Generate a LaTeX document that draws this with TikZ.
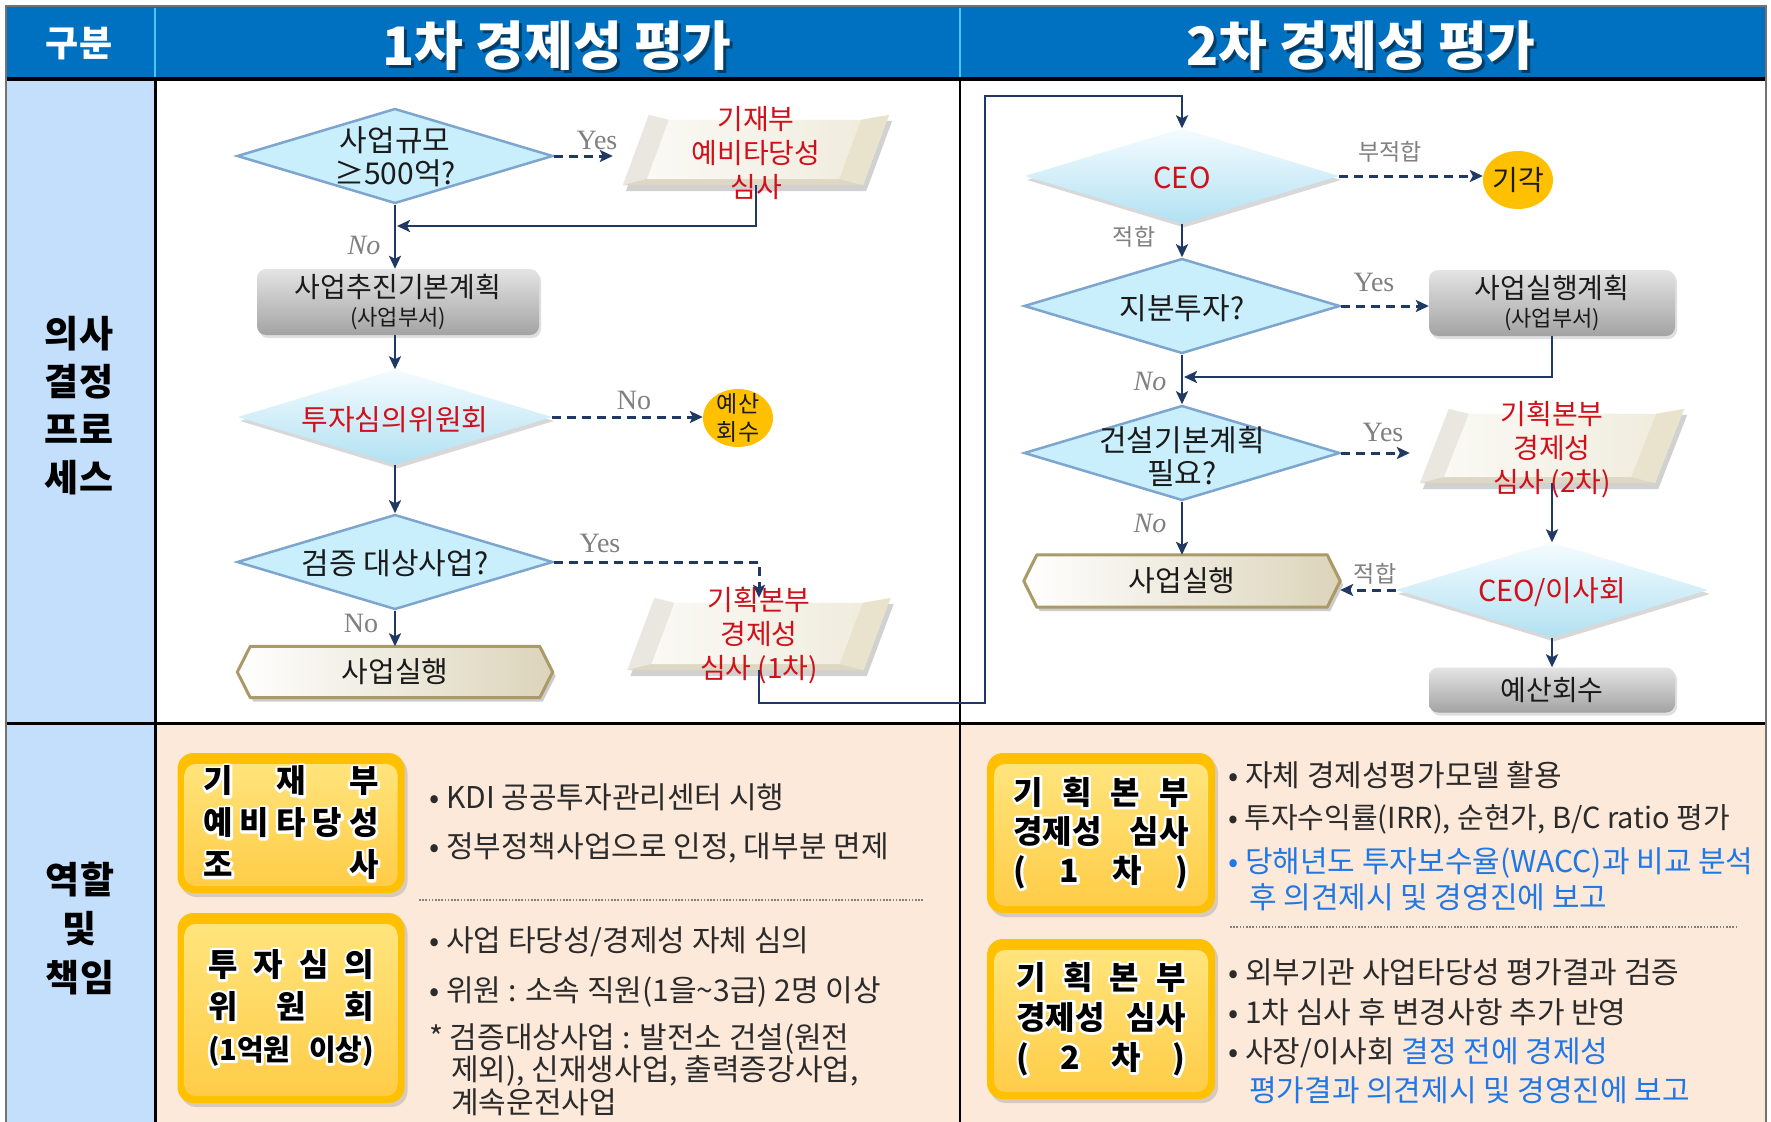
\documentclass[tikz,border=0pt]{standalone}
\usepackage{fontspec}
\setmainfont{Noto Sans CJK KR}
\newfontfamily\lserif{Liberation Serif}
\usetikzlibrary{shapes.geometric,arrows.meta,calc,shadows}
\pgfdeclarelayer{bg}
\pgfdeclarelayer{shp}
\pgfsetlayers{bg,shp,main}
\definecolor{hdrblue}{HTML}{0070C0}
\definecolor{hdrline}{HTML}{4FC3F7}
\definecolor{lcolblue}{HTML}{C4DFFB}
\definecolor{peach}{HTML}{FDE9DA}
\definecolor{navy}{HTML}{1F3864}
\definecolor{diafill}{HTML}{C9EEFC}
\definecolor{diaedge}{HTML}{7DA5CE}
\definecolor{glossT}{HTML}{F4FCFF}
\definecolor{glossB}{HTML}{B2E1F2}
\definecolor{redtxt}{HTML}{D0101A}
\definecolor{bluetxt}{HTML}{1F78E6}
\definecolor{graylbl}{HTML}{808080}
\definecolor{txt}{HTML}{1A1A1A}
\definecolor{bodytxt}{HTML}{2B2B2B}
\definecolor{orng}{HTML}{FFC000}
\definecolor{oyT}{HTML}{FFE680}
\definecolor{oyB}{HTML}{FFCB45}
\definecolor{grayT}{HTML}{E4E4E4}
\definecolor{grayB}{HTML}{A3A3A3}
\definecolor{hexedge}{HTML}{A99A68}
\definecolor{hexR}{HTML}{DCD4BA}
\definecolor{facT}{HTML}{FFFFFF}
\definecolor{facL}{HTML}{E9E7E0}
\definecolor{facB}{HTML}{DDD7C3}
\definecolor{facR}{HTML}{E9E3CE}
\definecolor{paraL}{HTML}{FAF9F4}
\definecolor{paraR}{HTML}{F0ECDE}
\newcommand\myfs[2]{\fontsize{#1}{#2}\selectfont}
\newcommand\halotext[1]{\special{pdf:literal direct 2 Tr 5 w 1 j}#1\special{pdf:literal direct 0 Tr 1 w 0 j}}
\newcommand\parashape[2]{%
 \path ([xshift=#2pt]#1.north west) coordinate (#1tl)
       (#1.north east) coordinate (#1tr)
       ([xshift=-#2pt]#1.south east) coordinate (#1br)
       (#1.south west) coordinate (#1bl);
 \path ([shift={(20,5)}]#1tl) coordinate (#1itl)
       ([shift={(-28,5)}]#1tr) coordinate (#1itr)
       ([shift={(-24,-6)}]#1br) coordinate (#1ibr)
       ([shift={(24,-6)}]#1bl) coordinate (#1ibl);
 \fill[black,opacity=.18] ([shift={(3,6)}]#1tl) -- ([shift={(3,6)}]#1tr) -- ([shift={(3,6)}]#1br) -- ([shift={(3,6)}]#1bl) -- cycle;
 \fill[facT] (#1tl) -- (#1tr) -- (#1itr) -- (#1itl) -- cycle;
 \fill[facL] (#1tl) -- (#1itl) -- (#1ibl) -- (#1bl) -- cycle;
 \fill[facB] (#1bl) -- (#1ibl) -- (#1ibr) -- (#1br) -- cycle;
 \fill[facR] (#1tr) -- (#1br) -- (#1ibr) -- (#1itr) -- cycle;
 \shade[left color=paraL, right color=paraR] (#1itl) -- (#1itr) -- (#1ibr) -- (#1ibl) -- cycle;
}
\newcommand\hexshape[1]{%
 \begin{scope}[transform canvas={shift={(3pt,-4pt)}}]
 \fill[black,opacity=.2] ([xshift=13pt]#1.north west) -- ([xshift=-13pt]#1.north east) -- (#1.east) -- ([xshift=-13pt]#1.south east) -- ([xshift=13pt]#1.south west) -- (#1.west) -- cycle;
 \end{scope}
 \filldraw[left color=white, right color=hexR, draw=hexedge, line width=3pt, line join=round] ([xshift=13pt]#1.north west) -- ([xshift=-13pt]#1.north east) -- (#1.east) -- ([xshift=-13pt]#1.south east) -- ([xshift=13pt]#1.south west) -- (#1.west) -- cycle;
}
\newcommand\obAtxt{\hbox to 175pt{기\hfil 재\hfil 부}\\\hbox to 175pt{예\hfil 비\hfil 타\hfil 당\hfil 성}\\\hbox to 175pt{조\hfil 사}}
\newcommand\obBtxt{\hbox to 166pt{투\hfil 자\hfil 심\hfil 의}\\\hbox to 166pt{위\hfil 원\hfil 회}\\\hbox to 166pt{\myfs{29}{42}(1억원\hfil 이상)}}
\newcommand\obCtxt{\hbox to 175pt{기\hfil 획\hfil 본\hfil 부}\\\hbox to 175pt{경제성\hfil 심사}\\\hbox to 175pt{(\hfil 1\hfil 차\hfil )}}
\newcommand\obDtxt{\hbox to 169pt{기\hfil 획\hfil 본\hfil 부}\\\hbox to 169pt{경제성\hfil 심사}\\\hbox to 169pt{(\hfil 2\hfil 차\hfil )}}
\begin{document}
\begin{tikzpicture}[x=1pt,y=-1pt,
 every node/.style={inner sep=0pt},
 flow/.style={draw=navy, line width=2.5pt},
 arr/.style={flow, -{Stealth[length=13pt,width=12pt,inset=3pt]}},
 darr/.style={arr, line width=3pt, dash pattern=on 9pt off 6pt},
 flatdia/.style={diamond, draw=diaedge, line width=2.5pt, fill=diafill, minimum width=316pt, minimum height=95pt},
 glossdia/.style={diamond, top color=glossT, bottom color=glossB, minimum width=314pt, minimum height=95pt, drop shadow={opacity=.3, shadow xshift=2pt, shadow yshift=-4pt}},
 dlabel/.style={text=txt, font=\myfs{30}{33}, align=center},
 rlabel/.style={text=redtxt, font=\myfs{28}{34}, align=center},
 graybox/.style={rectangle, rounded corners=9pt, top color=grayT, bottom color=grayB, font=\myfs{28}{30}, text=txt, align=center, drop shadow={opacity=.25, shadow xshift=2pt, shadow yshift=-3pt}},
 hexbox/.style={rectangle, minimum width=315pt, minimum height=51pt, font=\myfs{29}{30}, text=txt},
 parabox/.style={rectangle, minimum width=266pt, minimum height=70pt},
 orngcirc/.style={ellipse, fill=orng, minimum width=70pt, minimum height=58pt},
 yn/.style={text=graylbl, font=\lserif\myfs{28}{30}},
 ynit/.style={text=graylbl, font=\lserif\itshape\myfs{28}{30}},
 klbl/.style={text=graylbl, font=\myfs{23}{26}},
 bullet/.style={anchor=west, text=bodytxt, font=\myfs{30}{32}},
 obox/.style={rounded corners=16pt, fill=orng, minimum width=227pt, align=center, text=white,
   font=\bfseries\myfs{32}{42},
   drop shadow={opacity=.3, shadow xshift=3pt, shadow yshift=-4pt},
   path picture={\shade[top color=oyT, bottom color=oyB, rounded corners=11pt]
     ([shift={(7,11)}]path picture bounding box.north west) rectangle
     ([shift={(-7,-7)}]path picture bounding box.south east);}},
 obtext/.style={align=center, text=black, font=\bfseries\myfs{32}{42}},
 hdr/.style={text=white, font=\bfseries\myfs{53}{56}},
 hdrs/.style={text=black, opacity=.45, font=\bfseries\myfs{53}{56}}
]
\useasboundingbox (0,0) rectangle (1771,1121);

% ---------- table background ----------
\begin{pgfonlayer}{bg}
\fill[white] (0,0) rectangle (1771,1121);
\fill[hdrblue] (6,6) rectangle (1766,79);
\fill[lcolblue] (6,79) rectangle (155,1130);
\fill[peach] (155,723) rectangle (1766,1130);
\draw[hdrline, line width=1.5pt] (155,8) -- (155,78);
\draw[hdrline, line width=1.5pt] (960,8) -- (960,78);
\draw[black, line width=4pt] (6,79) -- (1766,79);
\draw[black, line width=3pt] (6,723) -- (1766,723);
\draw[black, line width=3pt] (155,79) -- (155,1130);
\draw[black, line width=2.5pt] (960,79) -- (960,1130);
\draw[black!55, line width=2pt] (6,6) rectangle (1766,1130);
\draw[gray, line width=1.6pt, dash pattern=on 1.6pt off 1.6pt] (419,900) -- (923,900);
\draw[gray, line width=1.6pt, dash pattern=on 1.6pt off 1.6pt] (1230,927) -- (1737,927);
\end{pgfonlayer}

% ---------- headers ----------
\node[text=white, font=\bfseries\myfs{36}{40}] (hd0) at (79,44) {구분};
\node[hdrs] (hd1s) at (560,49) {1차 경제성 평가};
\node[hdr] (hd1) at (557,46) {1차 경제성 평가};
\node[hdrs] (hd2s) at (1364,49) {2차 경제성 평가};
\node[hdr] (hd2) at (1361,46) {2차 경제성 평가};
\node[font=\bfseries\myfs{37}{48}, align=center, text=black] (lc1) at (79,406) {의사\\결정\\프로\\세스};
\node[font=\bfseries\myfs{37}{49}, align=center, text=black] (lc2) at (80,929) {역할\\및\\책임};

% ---------- left flow ----------
\node[flatdia] (d1) at (395,156) {};
\node[dlabel] (d1t) at (395,157) {사업규모\\≥500억?};
\node[parabox] (p1) at (756,150) {};
\node[graybox, minimum width=282pt, minimum height=66pt] (b1) at (398,302) {사업추진기본계획\\[-2pt]{\myfs{22}{26}(사업부서)}};
\node[glossdia] (d2) at (395,417) {};
\node[rlabel, font=\myfs{29}{32}] (d2t) at (395,420) {투자심의위원회};
\node[orngcirc] (c1) at (738,418) {};
\node[text=txt, font=\myfs{23}{28}, align=center] (c1t) at (738,418) {예산\\회수};
\node[flatdia] (d3) at (395,562) {};
\node[dlabel] (d3t) at (395,563) {검증 대상사업?};
\node[parabox, minimum width=263pt, minimum height=72pt] (p2) at (759,634) {};
\node[hexbox] (hx1) at (395,672) {사업실행};

% ---------- right flow ----------
\node[glossdia] (ceo) at (1182,176) {};
\node[rlabel, font=\myfs{29}{32}] (ceot) at (1182,178) {CEO};
\node[orngcirc] (kg) at (1518,180) {};
\node[text=txt, font=\myfs{28}{30}] (kgt) at (1518,180) {기각};
\node[flatdia] (d5) at (1182,306) {};
\node[dlabel] (d5t) at (1182,308) {지분투자?};
\node[graybox, minimum width=246pt, minimum height=66pt] (b2) at (1552,303) {사업실행계획\\[-2pt]{\myfs{22}{26}(사업부서)}};
\node[flatdia] (d6) at (1182,453) {};
\node[dlabel] (d6t) at (1182,457) {건설기본계획\\필요?};
\node[parabox, minimum width=264pt, minimum height=74pt] (p3) at (1552,446) {};
\node[hexbox, minimum width=316pt, minimum height=52pt] (hx2) at (1182,581) {사업실행};
\node[glossdia, minimum width=312pt] (d7) at (1552,590) {};
\node[rlabel, font=\myfs{29}{32}] (d7t) at (1552,592) {CEO/이사회};
\node[graybox, minimum width=246pt, minimum height=45pt] (b3) at (1552,690) {예산회수};

% ---------- shapes drawn behind ----------
\begin{pgfonlayer}{shp}
\parashape{p1}{26}
\parashape{p2}{27}
\parashape{p3}{29}
\hexshape{hx1}
\hexshape{hx2}
\end{pgfonlayer}

% ---------- parallelogram texts ----------
\node[rlabel] (p1t) at (756,153) {기재부\\예비타당성\\심사};
\node[rlabel] (p2t) at (759,636) {기획본부\\경제성\\심사 (1차)};
\node[rlabel] (p3t) at (1552,450) {기획본부\\경제성\\심사 (2차)};

% ---------- coordinates ----------
\coordinate (m1) at (397,226);
\coordinate (j1) at (985,703);
\coordinate (j2) at (985,96);
\coordinate (m2) at (1184,377);

% ---------- connectors ----------
\draw[darr, shorten >=10pt] (d1.east) -- (d1.east -| p1.west);
\draw[arr] (p1.south) |- (m1);
\draw[arr] (d1.south) -- (d1.south |- b1.north);
\draw[arr] (b1.south -| d2.north) -- (d2.north);
\draw[darr] (d2.east) -- (d2.east -| c1.west);
\draw[arr] (d2.south) -- (d3.north);
\draw[darr] (d3.east) -| (p2.north);
\draw[arr] (d3.south) -- (hx1.north);
\draw[arr] (p2.south) |- (j1) -- (j2) -| (ceo.north);
\draw[darr] (ceo.east) -- (ceo.east -| kg.west);
\draw[arr] (ceo.south) -- (d5.north);
\draw[darr] (d5.east) -- (d5.east -| b2.west);
\draw[arr] (b2.south) |- (m2);
\draw[arr] (d5.south) -- (d6.north);
\draw[darr, shorten >=10pt] (d6.east) -- (d6.east -| p3.west);
\draw[arr] (d6.south) -- (d6.south |- hx2.north);
\draw[arr] (p3.south) -- (d7.north);
\draw[darr] (d7.west) -- (d7.west -| hx2.east);
\draw[arr] (d7.south) -- (b3.north);

% ---------- connector labels ----------
\node[yn] (lyes1) at (597,140) {Yes};
\node[ynit] (lno1) at (364,245) {No};
\node[yn] (lno2) at (634,400) {No};
\node[yn] (lyes2) at (600,543) {Yes};
\node[yn] (lno3) at (361,623) {No};
\node[klbl] (lbj) at (1390,152) {부적합};
\node[klbl] (lj1) at (1134,237) {적합};
\node[yn] (lyes3) at (1374,282) {Yes};
\node[ynit] (lno4) at (1150,381) {No};
\node[yn] (lyes4) at (1383,432) {Yes};
\node[ynit] (lno5) at (1150,523) {No};
\node[klbl] (lj2) at (1375,574) {적합};

% ---------- roles row ----------
\node[obox, minimum height=140pt] (ob1) at (291,823) {\halotext{\obAtxt}};
\node[obtext] (ob1t) at (ob1.center) {\obAtxt};
\node[obox, minimum height=190pt] (ob2) at (291,1008) {\halotext{\obBtxt}};
\node[obtext] (ob2t) at (ob2.center) {\obBtxt};
\node[obox, minimum width=228pt, minimum height=160pt, font=\bfseries\myfs{32}{39}] (ob3) at (1101,833) {\halotext{\obCtxt}};
\node[obtext, font=\bfseries\myfs{32}{39}] (ob3t) at (ob3.center) {\obCtxt};
\node[obox, minimum width=228pt, minimum height=160pt, font=\bfseries\myfs{32}{40}] (ob4) at (1101,1019) {\halotext{\obDtxt}};
\node[obtext, font=\bfseries\myfs{32}{40}] (ob4t) at (ob4.center) {\obDtxt};

\node[bullet] (t1) at (429,797) {• KDI 공공투자관리센터 시행};
\node[bullet] (t2) at (429,848) {• 정부정책사업으로 인정, 대부분 면제};
\node[bullet] (t3) at (429,942) {• 사업 타당성/경제성 자체 심의};
\node[bullet] (t4) at (429,992) {• 위원 : 소속 직원(1을\textasciitilde 3급) 2명 이상};
\node[bullet] (t5) at (429,1039) {* 검증대상사업 : 발전소 건설(원전};
\node[bullet] (t6) at (451,1071) {제외), 신재생사업, 출력증강사업,};
\node[bullet] (t7) at (451,1102) {계속운전사업};

\node[bullet] (r1) at (1228,775) {• 자체 경제성평가모델 활용};
\node[bullet, font=\myfs{29}{30}] (r2) at (1228,819) {• 투자수익률(IRR), 순현가, B/C ratio 평가};
\node[bullet, text=bluetxt] (r3) at (1228,863) {• 당해년도 투자보수율(WACC)과 비교 분석};
\node[bullet, text=bluetxt] (r4) at (1249,897) {후 의견제시 및 경영진에 보고};
\node[bullet] (r5) at (1228,972) {• 외부기관 사업타당성 평가결과 검증};
\node[bullet] (r6) at (1228,1012) {• 1차 심사 후 변경사항 추가 반영};
\node[bullet] (r7) at (1228,1053) {• 사장/이사회 \textcolor{bluetxt}{결정 전에 경제성}};
\node[bullet, text=bluetxt] (r8) at (1249,1090) {평가결과 의견제시 및 경영진에 보고};
\end{tikzpicture}
\end{document}
